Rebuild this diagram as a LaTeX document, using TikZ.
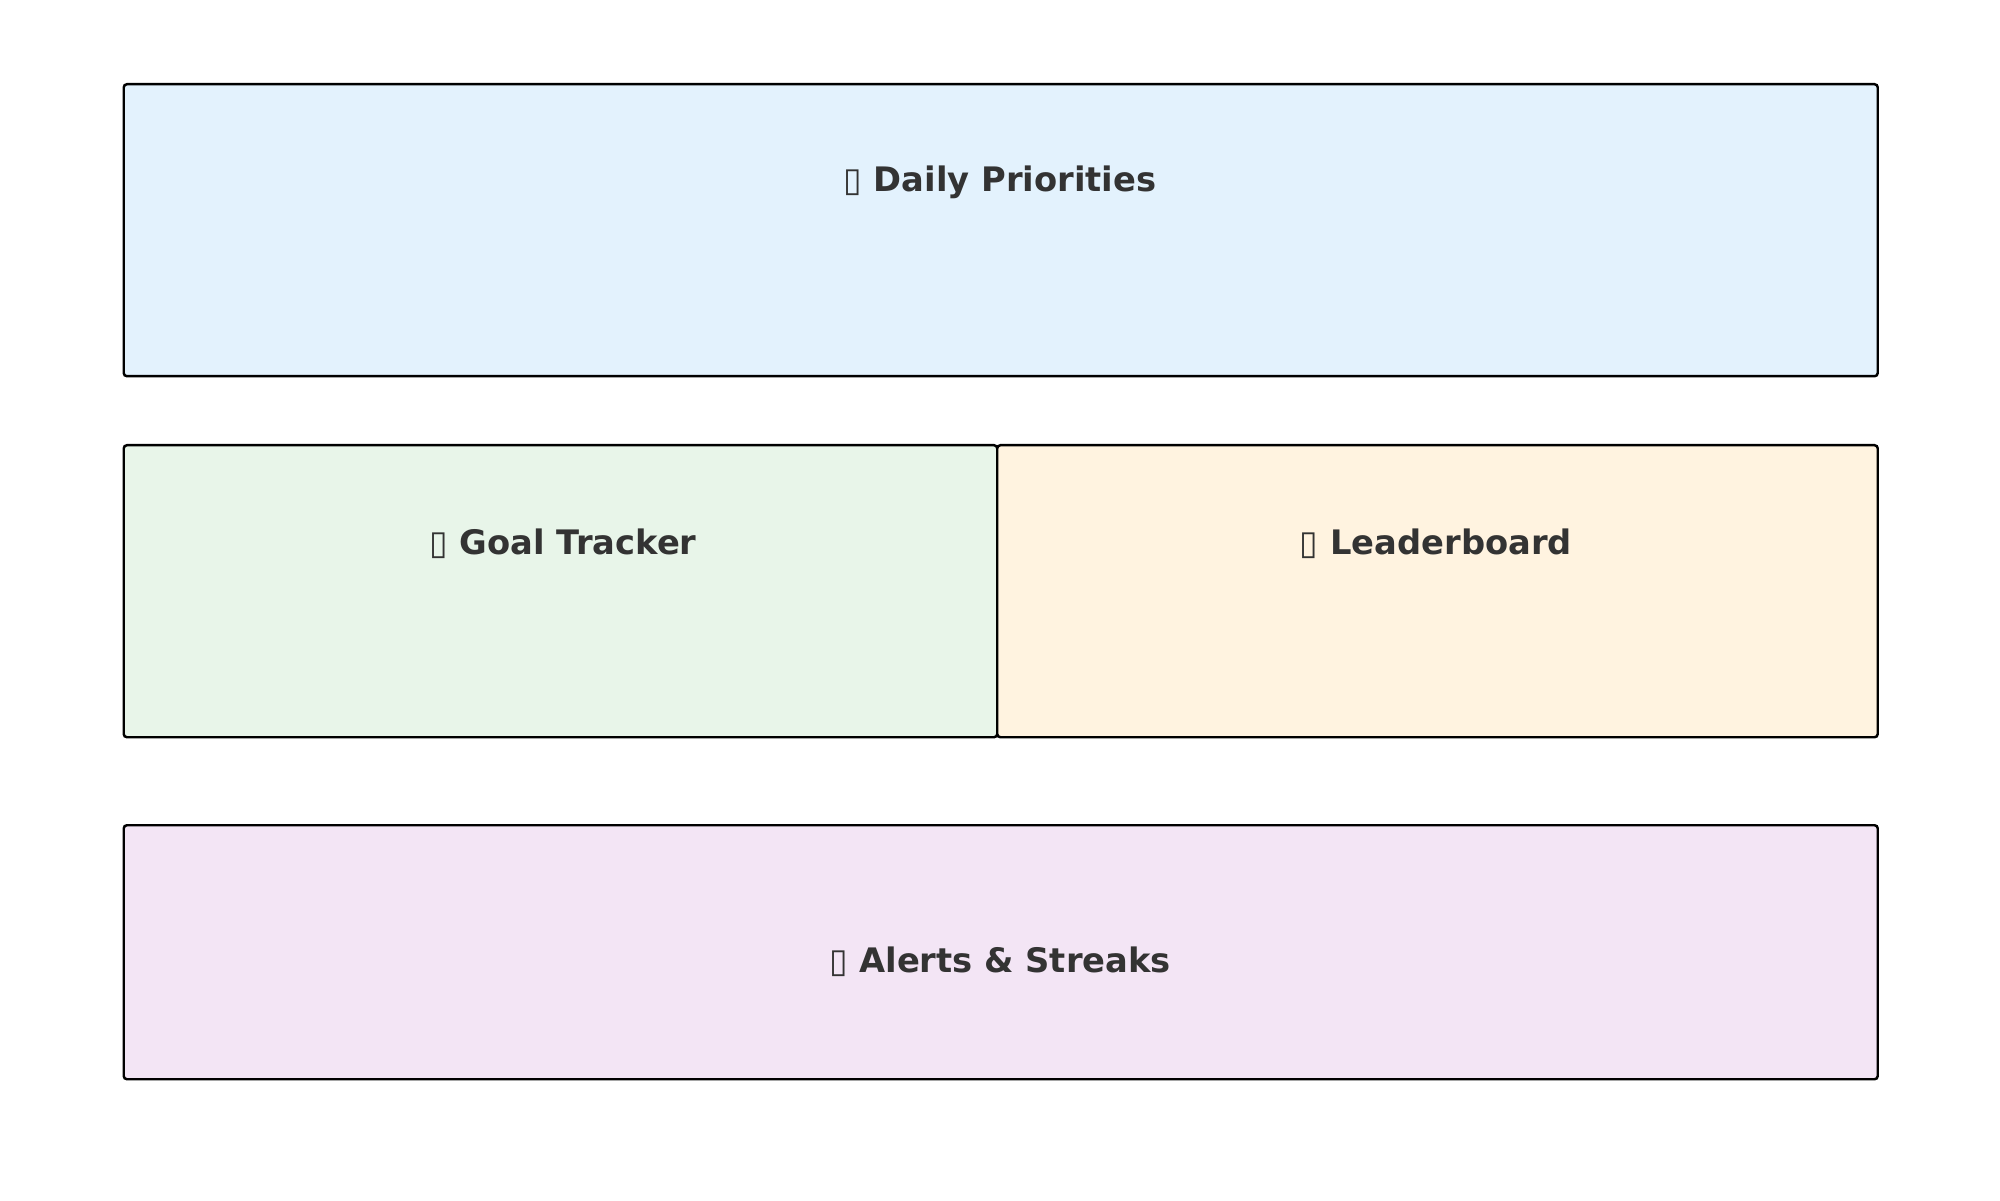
\documentclass[tikz,border=0pt]{standalone}
\usepackage{fontspec}
\setmainfont{DejaVu Sans}
\usepackage{xcolor}
\usetikzlibrary{positioning}
\definecolor{txtgray}{HTML}{333333}
\definecolor{prioblue}{HTML}{E3F2FD}
\definecolor{goalgreen}{HTML}{E8F5E9}
\definecolor{leadorange}{HTML}{FFF3E0}
\definecolor{alertpurple}{HTML}{F3E5F5}
\newcommand{\tofu}{{\fontseries{m}\selectfont ▯}}

\begin{document}
\begin{tikzpicture}[
  panel/.style={draw=black,line width=0.7pt,rounded corners=0.9pt,inner sep=0pt,anchor=north west},
  paneltitle/.style={font=\fontsize{9.6}{11}\selectfont\bfseries,text=txtgray}]
 \useasboundingbox (0,0) rectangle (20,12);
 % panels
 \node[panel,fill=prioblue,minimum width=17.54cm,minimum height=2.92cm] (prio) at(1.225,11.17){};
 \node[panel,fill=goalgreen,minimum width=8.735cm,minimum height=2.92cm] (goal) at(1.225,7.56){};
 \node[panel,fill=leadorange,minimum width=8.805cm,minimum height=2.92cm] (lead) at(9.96,7.56){};
 \node[panel,fill=alertpurple,minimum width=17.54cm,minimum height=2.54cm] (alert) at(1.225,3.76){};
 % titles
 \node[paneltitle] (priot) at(10.0,10.18){\tofu{} Daily Priorities};
 \node[paneltitle] (goalt) at(5.63,6.56){\tofu{} Goal Tracker};
 \node[paneltitle] (leadt) at(14.36,6.56){\tofu{} Leaderboard};
 \node[paneltitle] (alertt) at(10.0,2.38){\tofu{} Alerts \& Streaks};
\end{tikzpicture}
\end{document}
